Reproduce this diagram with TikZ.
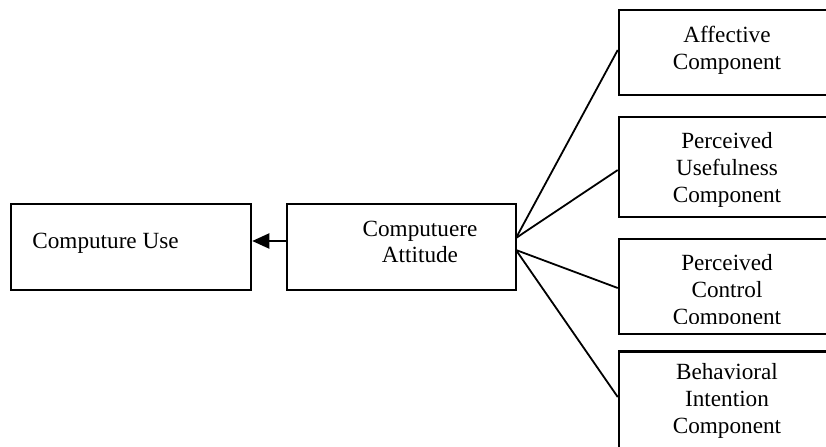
\documentclass[tikz,border=0pt]{standalone}
\usepackage{fontspec}
\setmainfont{Liberation Serif}
\usetikzlibrary{arrows.meta}
\begin{document}
\begin{tikzpicture}[x=0.5pt,y=-0.5pt,
  box/.style={draw=black,line width=1.25pt,fill=white,minimum width=#1,inner sep=0pt},
  lbl/.style={font=\fontsize{11.6}{13.3}\selectfont,align=center,inner sep=0pt},
  fan/.style={line width=0.9pt}]
\fill[white] (0,0) rectangle (826,446);
\useasboundingbox (0,0) rectangle (826,446);
\clip (0,0) rectangle (826,446);
% left boxes
\node[box=240*0.5pt,minimum height=86*0.5pt] (use) at (131,247) {};
\node[lbl,anchor=west] (usetxt) at (32,243) {Computure Use};
\node[box=229*0.5pt,minimum height=86*0.5pt] (att) at (401.5,247) {};
\node[lbl] (atttxt) at (420,242) {Computuere\\Attitude};
% right boxes
\node[box=218*0.5pt,minimum height=85*0.5pt] (aff) at (728,52.5) {};
\node[lbl] (afftxt) at (727,50) {Affective\\Component};
\node[box=218*0.5pt,minimum height=100*0.5pt] (usef) at (728,167) {};
\node[lbl] (useftxt) at (727,170) {Perceived\\Usefulness\\Component};
\node[box=218*0.5pt,minimum height=95*0.5pt] (ctrl) at (728,286.5) {};
\begin{scope}
\clip (620,240) rectangle (840,323);
\node[lbl] (ctrltxt) at (727,292) {Perceived\\Control\\Component};
\end{scope}
\node[box=218*0.5pt,minimum height=110*0.5pt,anchor=north] (beh) at (728,350) {};
\node[lbl] (behtxt) at (727,401) {Behavioral\\Intention\\Component};
% connectors
\draw[line width=1pt,-{Triangle[length=8.5pt,width=7.5pt]}] (att.west |- 0,241) -- (use.east |- 0,241);
\coordinate (fanA) at (516,238);
\coordinate (fanB) at (516,250);
\draw[fan] (fanA) -- (aff.west |- 0,50);
\draw[fan] (fanA) -- (usef.west |- 0,170);
\draw[fan] (fanB) -- (ctrl.west |- 0,288);
\draw[fan] (fanB) -- (beh.west |- 0,397);
\end{tikzpicture}
\end{document}
